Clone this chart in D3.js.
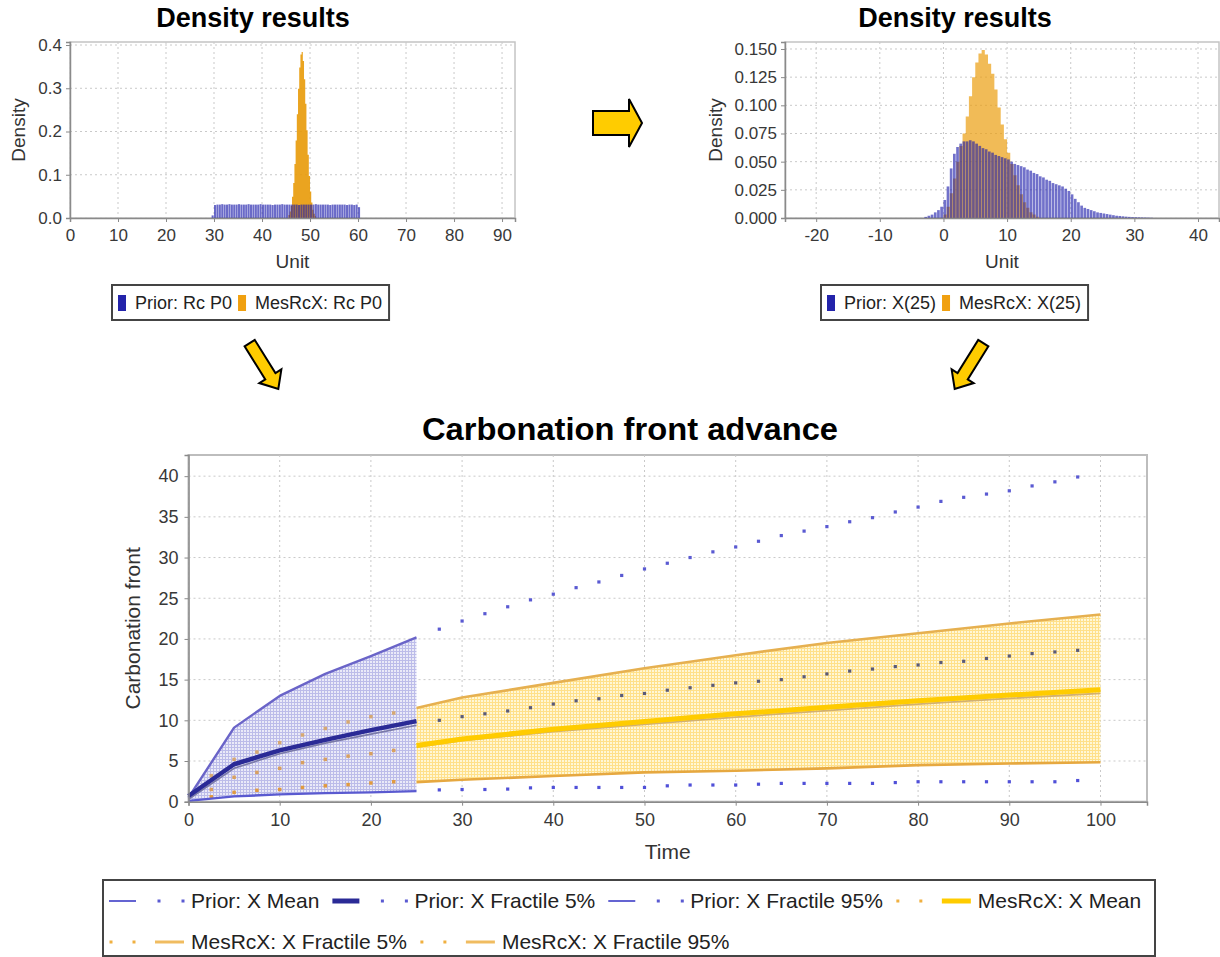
<!DOCTYPE html>
<html>
<head>
<meta charset="utf-8">
<script src="https://cdn.jsdelivr.net/npm/d3@7"></script>
<style>
  html, body { margin: 0; padding: 0; background: #fff; }
  svg { display: block; font-family: "Liberation Sans", Arial, sans-serif; }
</style>
</head>
<body>
<svg id="fig" width="1220" height="957"></svg>
<script>
// ---------------- Density of Rc P0 (histogram bins) ----------------
const rcPriorStart = 29.5, rcPriorWidth = 0.5;
const rcPrior = [0.006,
  0.030,0.031,0.031,0.032,0.031,0.031,0.032,0.031,0.031,0.031,
  0.032,0.031,0.031,0.031,0.032,0.031,0.031,0.031,0.031,0.032,
  0.031,0.031,0.031,0.031,0.030,0.031,0.031,0.031,0.032,0.031,
  0.031,0.031,0.031,0.031,0.031,0.030,0.031,0.031,0.031,0.031,
  0.031,0.031,0.032,0.031,0.031,0.031,0.031,0.031,0.030,0.031,
  0.031,0.031,0.031,0.031,0.031,0.030,0.031,0.031,0.030,0.031,
  0.025];
const rcMesStart = 45.5, rcMesWidth = 0.25;
const rcMes = [0.007,0.015,0.028,0.049,0.081,0.125,0.179,0.240,0.299,0.348,0.378,0.384,
  0.363,0.321,0.264,0.203,0.146,0.097,0.061,0.036,0.019,0.010,0.004];
const rcXTicks = [0,10,20,30,40,50,60,70,80,90];
const rcYTicks = [0,0.1,0.2,0.3,0.4];
const rcLegend = ["Prior: Rc P0", "MesRcX: Rc P0"];

// ---------------- Density of X(25) ----------------
const x25PriorStart = -3, x25PriorWidth = 0.5;
const x25Prior = [0.001,0.002,0.003,0.005,0.007,0.010,0.016,0.028,0.044,0.057,
  0.063,0.066,0.068,0.068,0.069,0.068,0.066,0.064,0.062,0.061,
  0.059,0.058,0.056,0.055,0.054,0.053,0.052,0.050,0.048,0.047,
  0.046,0.045,0.043,0.042,0.040,0.039,0.037,0.036,0.034,0.033,
  0.031,0.030,0.029,0.028,0.026,0.024,0.021,0.017,0.014,0.011,
  0.009,0.008,0.007,0.006,0.005,0.0045,0.004,0.0035,0.003,0.0025,
  0.002,0.0018,0.0015,0.0012,0.001,0.0008,0.0007,0.0006,0.0005,0.0004,
  0.0003,0.0002];
const x25MesStart = 0, x25MesWidth = 0.5;
const x25Mes = [0.003,0.010,0.022,0.035,0.050,0.064,0.075,0.090,0.108,0.125,
  0.138,0.146,0.149,0.145,0.137,0.128,0.114,0.098,0.083,0.070,
  0.058,0.048,0.038,0.029,0.021,0.014,0.009,0.005,0.003,0.001];
const x25XTicks = [-20,-10,0,10,20,30,40];
const x25YTicks = [0,0.025,0.05,0.075,0.1,0.125,0.15];
const x25Legend = ["Prior: X(25)", "MesRcX: X(25)"];

// ---------------- Carbonation front advance ----------------
const priorLineTime  = [0, 5, 10, 15, 20, 25];
const priorLine95    = [0.5, 9.1, 13.0, 15.7, 17.9, 20.2];
const priorLineMean  = [0.7, 4.6, 6.3, 7.6, 8.8, 9.9];
const priorLineMed   = [0.3, 4.1, 5.9, 7.2, 8.3, 9.4];
const priorLine5     = [0.1, 0.65, 0.9, 1.05, 1.15, 1.3];

const priorDotTime = [27.5,30,32.5,35,37.5,40,42.5,45,47.5,50,52.5,55,57.5,60,62.5,
  65,67.5,70,72.5,75,77.5,80,82.5,85,87.5,90,92.5,95,97.5];
const priorDot95 = [21.2,22.2,23.1,23.95,24.8,25.5,26.3,27.0,27.8,28.6,29.3,30.0,30.7,31.3,32.0,
  32.7,33.25,33.8,34.4,34.9,35.6,36.2,36.9,37.4,37.8,38.2,38.8,39.3,39.9];
const priorDotMean = [10.0,10.45,10.8,11.15,11.55,12.0,12.4,12.65,13.05,13.3,13.7,14.0,14.3,14.6,14.8,
  15.0,15.35,15.7,16.05,16.3,16.6,16.8,17.1,17.25,17.6,17.9,18.2,18.4,18.6];
const priorDot5 = [1.45,1.5,1.5,1.55,1.7,1.75,1.75,1.75,1.75,1.75,1.95,2.05,2.05,2.05,2.15,
  2.25,2.25,2.25,2.25,2.25,2.35,2.45,2.45,2.45,2.45,2.45,2.45,2.45,2.6];

const mesDotTime = [2.5,5,7.5,10,12.5,15,17.5,20,22.5];
const mesDot95   = [3.2,5.2,6.1,7.25,8.2,9.0,9.8,10.45,10.9];
const mesDotMean = [1.5,3.0,3.6,4.1,4.8,5.2,5.6,5.9,6.3];
const mesDot5    = [0.6,1.15,1.4,1.5,1.75,1.95,2.1,2.3,2.45];

const mesLineTime = [25, 30, 40, 50, 60, 70, 80, 90, 100];
const mesLine95   = [11.5, 12.8, 14.6, 16.4, 18.0, 19.5, 20.7, 21.9, 23.0];
const mesLineMean = [6.9, 7.7, 8.9, 9.85, 10.8, 11.6, 12.4, 13.1, 13.75];
const mesLineMed  = [6.7, 7.5, 8.6, 9.5, 10.4, 11.2, 12.0, 12.7, 13.3];
const mesLine5    = [2.4, 2.7, 3.15, 3.6, 3.8, 4.1, 4.5, 4.7, 4.85];

const timeTicks  = [0,10,20,30,40,50,60,70,80,90,100];
const frontTicks = [0,5,10,15,20,25,30,35,40];
const frontLegend = ["Prior: X Mean", "Prior: X Fractile 5%", "Prior: X Fractile 95%",
  "MesRcX: X Mean", "MesRcX: X Fractile 5%", "MesRcX: X Fractile 95%"];

// ---------------- drawing ----------------
const svg = d3.select("#fig");
const FONT = '"Liberation Sans", Arial, sans-serif';
const BLUE = "#2323aa", GOLD = "#ffcc00";
const GRID = "#c9c9c9", AXIS = "#8a8a8a", TICKTXT = "#383838";

function styleAxis(g, size) {
  g.select(".domain").attr("stroke", AXIS).attr("stroke-width", 1.5);
  g.selectAll(".tick line").attr("stroke", AXIS);
  g.selectAll(".tick text").attr("fill", TICKTXT).attr("font-size", size).attr("font-family", FONT);
}

function gridLines(g, x, y, xt, yt, box) {
  g.append("g").selectAll("line").data(xt).join("line")
    .attr("x1", d => x(d)).attr("x2", d => x(d)).attr("y1", box.top).attr("y2", box.bottom)
    .attr("stroke", GRID).attr("stroke-dasharray", "2,3");
  g.append("g").selectAll("line").data(yt).join("line")
    .attr("y1", d => y(d)).attr("y2", d => y(d)).attr("x1", box.left).attr("x2", box.right)
    .attr("stroke", GRID).attr("stroke-dasharray", "2,3");
}

function densityPanel(c) {
  const g = svg.append("g");
  const x = d3.scaleLinear().domain(c.xDomain).range([c.left, c.right]);
  const y = d3.scaleLinear().domain(c.yDomain).range([c.bottom, c.top]);
  g.append("rect").attr("x", c.left).attr("y", c.top)
    .attr("width", c.right - c.left).attr("height", c.bottom - c.top)
    .attr("fill", "#fff").attr("stroke", "#c4c4c4").attr("stroke-width", 1.5);
  gridLines(g, x, y, c.xTicks, c.yTicks, c);

  // MesRcX bins first (as one stepped shape), prior bins drawn over them with transparency
  c.series.forEach(s => {
    if (s.step) {
      const pts = s.values.map((v, i) => ({ x: s.start + i * s.width, v }));
      pts.push({ x: s.start + s.values.length * s.width, v: 0 });
      const area = d3.area().curve(d3.curveStepAfter)
        .x(d => x(d.x)).y0(y(0)).y1(d => y(d.v));
      g.append("path").datum(pts).attr("d", area)
        .attr("fill", s.color).attr("fill-opacity", s.alpha);
    } else {
      g.append("g").selectAll("rect").data(s.values).join("rect")
        .attr("x", (d, i) => x(s.start + i * s.width))
        .attr("width", (d, i) => Math.max(0.3, x(s.start + (i + 1) * s.width) - x(s.start + i * s.width) - s.gap))
        .attr("y", d => y(d))
        .attr("height", d => y(0) - y(d))
        .attr("fill", s.color).attr("fill-opacity", s.alpha);
    }
  });

  const ax = g.append("g").attr("transform", `translate(0,${c.bottom})`)
    .call(d3.axisBottom(x).tickValues(c.xTicks).tickFormat(d => String(d)).tickSizeOuter(0).tickSize(4).tickPadding(7));
  styleAxis(ax, 17);
  const ay = g.append("g").attr("transform", `translate(${c.left},0)`)
    .call(d3.axisLeft(y).tickValues(c.yTicks).tickFormat(d3.format(c.yFormat)).tickSizeOuter(0).tickSize(4).tickPadding(4));
  styleAxis(ay, 17);

  g.append("text").attr("x", c.titleX).attr("y", 27).attr("text-anchor", "middle")
    .attr("font-weight", "bold").attr("font-size", 27).attr("fill", "#000").text("Density results");
  g.append("text").attr("x", (c.left + c.right) / 2).attr("y", 268).attr("text-anchor", "middle")
    .attr("font-size", 19).attr("fill", "#333").text("Unit");
  g.append("text").attr("transform", `translate(${c.yLabelX},${(c.top + c.bottom) / 2}) rotate(-90)`)
    .attr("text-anchor", "middle").attr("dy", "0.35em")
    .attr("font-size", 19).attr("fill", "#333").text("Density");

  // legend
  const lg = g.append("g");
  let cx = c.legendX + 6;
  c.legend.forEach((lab, i) => {
    lg.append("rect").attr("x", cx).attr("y", 295).attr("width", 8).attr("height", 16)
      .attr("fill", c.legendColors[i]);
    const t = lg.append("text").attr("x", cx + 17).attr("y", 309).attr("font-size", 18)
      .attr("fill", "#222").text(lab);
    cx += 17 + t.node().getComputedTextLength() + 6;
  });
  lg.insert("rect", ":first-child").attr("x", c.legendX).attr("y", 285)
    .attr("width", cx - c.legendX + 1).attr("height", 35)
    .attr("fill", "#fff").attr("stroke", "#444").attr("stroke-width", 2);
}

densityPanel({
  left: 70, right: 515, top: 42, bottom: 218,
  xDomain: [0, 92.7], yDomain: [0, 0.407],
  xTicks: rcXTicks, yTicks: rcYTicks, yFormat: ".1f",
  titleX: 253, yLabelX: 18, legendX: 112,
  legend: rcLegend, legendColors: [BLUE, "#f0a010"],
  series: [
    { values: rcMes, start: rcMesStart, width: rcMesWidth, color: "#e89a08", alpha: 0.9, gap: 0, step: true },
    { values: rcPrior, start: rcPriorStart, width: rcPriorWidth, color: "#1a1aaa", alpha: 0.65, gap: 0.35 }
  ]
});

densityPanel({
  left: 785, right: 1219, top: 42, bottom: 218,
  xDomain: [-24.9, 43.3], yDomain: [0, 0.1562],
  xTicks: x25XTicks, yTicks: x25YTicks, yFormat: ".3f",
  titleX: 955, yLabelX: 715, legendX: 821,
  legend: x25Legend, legendColors: [BLUE, "#f0a010"],
  series: [
    { values: x25Mes, start: x25MesStart, width: x25MesWidth, color: "#eb9e10", alpha: 0.7, gap: 0, step: true },
    { values: x25Prior, start: x25PriorStart, width: x25PriorWidth, color: "#1a1aaa", alpha: 0.62, gap: 0.5 }
  ]
});

// ---------------- arrows ----------------
function arrow(cx, cy, angle, len, bodyHalf, headHalf, headLen) {
  const h = len / 2;
  const pts = [[-h, -bodyHalf], [h - headLen, -bodyHalf], [h - headLen, -headHalf], [h, 0],
               [h - headLen, headHalf], [h - headLen, bodyHalf], [-h, bodyHalf]];
  svg.append("polygon")
    .attr("points", pts.map(p => p.join(",")).join(" "))
    .attr("transform", `translate(${cx},${cy}) rotate(${angle})`)
    .attr("fill", GOLD).attr("stroke", "#000").attr("stroke-width", 2).attr("stroke-linejoin", "miter");
}
arrow(617.5, 123, 0, 49, 12, 24, 13);
arrow(264, 366, 58, 54, 6, 13, 15);
arrow(969, 366, 122, 54, 6, 13, 15);

// ---------------- Carbonation front advance ----------------
const P = { left: 188.5, right: 1147, top: 455, bottom: 801.7 };
const fx = d3.scaleLinear().domain([0, 105.1]).range([P.left, P.right]);
const fy = d3.scaleLinear().domain([0, 42.6]).range([P.bottom, P.top]);
const fg = svg.append("g");

const defs = svg.append("defs");
function hatch(id, bg, line) {
  const p = defs.append("pattern").attr("id", id).attr("width", 3).attr("height", 3)
    .attr("patternUnits", "userSpaceOnUse");
  p.append("rect").attr("width", 3).attr("height", 3).attr("fill", bg);
  p.append("path").attr("d", "M0 0.5H3M0.5 0V3").attr("stroke", line).attr("stroke-width", 1);
}
hatch("hatchBlue", "#eaeaf8", "#bcbce9");
hatch("hatchGold", "#fff7d6", "#ffe08a");

fg.append("rect").attr("x", P.left).attr("y", P.top)
  .attr("width", P.right - P.left).attr("height", P.bottom - P.top)
  .attr("fill", "#fff").attr("stroke", "#bdbdbd").attr("stroke-width", 2);
gridLines(fg, fx, fy, timeTicks, frontTicks, P);

const zip = (t, a, b) => t.map((d, i) => ({ t: d, lo: a[i], hi: b[i] }));
const band = d3.area().x(d => fx(d.t)).y0(d => fy(d.lo)).y1(d => fy(d.hi));
fg.append("path").datum(zip(priorLineTime, priorLine5, priorLine95))
  .attr("d", band).attr("fill", "url(#hatchBlue)");
fg.append("path").datum(zip(mesLineTime, mesLine5, mesLine95))
  .attr("d", band).attr("fill", "url(#hatchGold)");

function dots(times, vals, color, size) {
  fg.append("g").selectAll("rect").data(times).join("rect")
    .attr("x", (d) => fx(d) - size / 2)
    .attr("y", (d, i) => fy(vals[i]) - size / 2)
    .attr("width", size).attr("height", size).attr("fill", color);
}
dots(priorDotTime, priorDot95, "#5a5ad2", 3.2);
dots(priorDotTime, priorDotMean, "#5a5a78", 3.2);
dots(priorDotTime, priorDot5, "#5050d8", 3.2);
dots(mesDotTime, mesDot95, "#d6a872", 3.5);
dots(mesDotTime, mesDotMean, "#d8a060", 3.5);
dots(mesDotTime, mesDot5, "#e09a40", 3.5);

function line(times, vals, color, width) {
  const gen = d3.line().x((d) => fx(d)).y((d, i) => fy(vals[i]));
  fg.append("path").attr("d", gen(times)).attr("fill", "none")
    .attr("stroke", color).attr("stroke-width", width).attr("stroke-linejoin", "round");
}
line(priorLineTime, priorLine95, "#6a64c8", 2.4);
line(priorLineTime, priorLine5, "#5a5ad0", 2.4);
line(priorLineTime, priorLineMed, "#7a7aa8", 1.6);
line(priorLineTime, priorLineMean, "#2a2a96", 4.5);
line(mesLineTime, mesLine95, "#e6b050", 2.6);
line(mesLineTime, mesLine5, "#e6a840", 2.6);
line(mesLineTime, mesLineMed, "#d2b070", 1.8);
line(mesLineTime, mesLineMean, GOLD, 5);

const fax = fg.append("g").attr("transform", `translate(0,${P.bottom})`)
  .call(d3.axisBottom(fx).tickValues(timeTicks).tickFormat(d => String(d)).tickSizeOuter(0).tickSize(4).tickPadding(8));
styleAxis(fax, 18);
const fay = fg.append("g").attr("transform", `translate(${P.left},0)`)
  .call(d3.axisLeft(fy).tickValues(frontTicks).tickFormat(d => String(d)).tickSizeOuter(0).tickSize(4).tickPadding(6));
styleAxis(fay, 18);

fg.append("text").attr("x", 630).attr("y", 440).attr("text-anchor", "middle")
  .attr("font-weight", "bold").attr("font-size", 32).attr("fill", "#000")
  .attr("textLength", 416).attr("lengthAdjust", "spacingAndGlyphs")
  .text("Carbonation front advance");
fg.append("text").attr("x", (P.left + P.right) / 2).attr("y", 859).attr("text-anchor", "middle")
  .attr("font-size", 21).attr("fill", "#333").text("Time");
fg.append("text").attr("transform", `translate(133,${(P.top + P.bottom) / 2}) rotate(-90)`)
  .attr("text-anchor", "middle").attr("dy", "0.35em")
  .attr("font-size", 21).attr("fill", "#333").text("Carbonation front");

// legend: symbol styles for each entry
const legendSymbols = [
  { order: "lineFirst", line: "#6464d2", width: 2, dot: "#5a5ad2" },
  { order: "lineFirst", line: "#2a2a96", width: 5, dot: "#5a5ad2" },
  { order: "lineFirst", line: "#6464d2", width: 2, dot: "#5a5ad2" },
  { order: "dotsFirst", line: GOLD, width: 5, dot: "#f0b040" },
  { order: "dotsFirst", line: "#f0bc60", width: 3, dot: "#f0b040" },
  { order: "dotsFirst", line: "#f0bc60", width: 3, dot: "#f0b040" }
];
const lgg = svg.append("g");
lgg.append("rect").attr("x", 103).attr("y", 880).attr("width", 1052).attr("height", 76)
  .attr("fill", "#fff").attr("stroke", "#444").attr("stroke-width", 2);
const rows = [{ y: 901, items: [0, 1, 2, 3], x0: 108 }, { y: 942, items: [4, 5], x0: 108 }];
rows.forEach(r => {
  let x = r.x0;
  r.items.forEach(i => {
    const s = legendSymbols[i];
    let lineX, dotX;
    if (s.order === "lineFirst") { lineX = [x + 1, x + 28]; dotX = [x + 51, x + 75]; }
    else { dotX = [x + 3, x + 26]; lineX = [x + 47, x + 76]; }
    lgg.append("line").attr("x1", lineX[0]).attr("x2", lineX[1]).attr("y1", r.y).attr("y2", r.y)
      .attr("stroke", s.line).attr("stroke-width", s.width);
    dotX.forEach(dx => lgg.append("rect").attr("x", dx - 1.5).attr("y", r.y - 1.5)
      .attr("width", 3).attr("height", 3).attr("fill", s.dot));
    const t = lgg.append("text").attr("x", x + 83).attr("y", r.y + 7).attr("font-size", 21)
      .attr("fill", "#222").text(frontLegend[i]);
    x += 83 + t.node().getComputedTextLength() + 12;
  });
});
</script>
</body>
</html>
